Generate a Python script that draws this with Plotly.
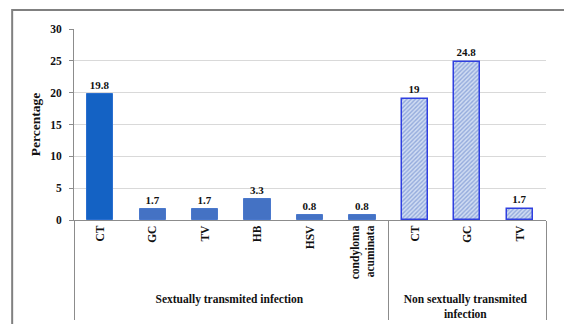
import plotly.graph_objects as go

groups = ["Sextually transmited infection"] * 6 + ["Non sextually transmited<br>infection"] * 3
categories = ["CT", "GC", "TV", "HB", "HSV", "condyloma<br>acuminata", "CT", "GC", "TV"]
values = [19.8, 1.7, 1.7, 3.3, 0.8, 0.8, 19, 24.8, 1.7]
y_ticks = [0, 5, 10, 15, 20, 25, 30]

n_sti = 6
font = "Liberation Serif, Times New Roman, serif"
bold = dict(family=font, size=11, color="#111", weight="bold")
tickbold = dict(family=font, size=11.5, color="#111", weight="bold")

fig = go.Figure()
fig.add_bar(
    x=[groups[:1], categories[:1]], y=values[:1],
    marker=dict(color="#1462c4", line=dict(color="#2a6fd0", width=1)),
    text=[str(v) for v in values[:1]], textposition="outside",
    width=0.5, cliponaxis=False,
)
fig.add_bar(
    x=[groups[1:n_sti], categories[1:n_sti]], y=values[1:n_sti],
    marker=dict(color="#4472c4", line=dict(color="#4a78cc", width=1)),
    text=[str(v) for v in values[1:n_sti]], textposition="outside",
    width=0.5, cliponaxis=False,
)
fig.add_bar(
    x=[groups[n_sti:], categories[n_sti:]], y=values[n_sti:],
    marker=dict(color="#3a4ee0",
                pattern=dict(shape="/", fgcolor="#5577c6", bgcolor="#d0dcf2", size=3, solidity=0.45),
                line=dict(color="#2f3fe0", width=1.5)),
    text=[str(v) for v in values[n_sti:]], textposition="outside",
    width=0.5, cliponaxis=False,
)

fig.update_traces(textfont=bold)

fig.update_layout(
    width=564, height=324,
    margin=dict(l=74, r=18, t=29, b=104, autoexpand=False),
    paper_bgcolor="white", plot_bgcolor="white",
    showlegend=False, barmode="group", bargap=0,
    font=dict(family=font, size=11, color="#111"),
    xaxis=dict(
        type="multicategory", tickangle=-90, automargin=False,
        tickfont=tickbold,
        showline=True, linecolor="#8c8c8c", linewidth=1,
        showdividers=True, dividercolor="#8c8c8c", dividerwidth=1,
        ticks="",
    ),
    yaxis=dict(
        range=[0, 30], tickvals=y_ticks, automargin=False,
        tickfont=tickbold, ticklabelstandoff=5,
        showgrid=True, gridcolor="#d9d9d9", gridwidth=1,
        showline=True, linecolor="#8c8c8c", linewidth=1,
        ticks="outside", ticklen=4, tickcolor="#8c8c8c",
        title=dict(text="Percentage", font=dict(family=font, size=13.5, color="#111", weight="bold"), standoff=6),
        zeroline=False,
    ),
    shapes=[dict(type="rect", xref="paper", yref="paper",
                 x0=-0.131, y0=-1.0, x1=1.2, y1=1.0995,
                 line=dict(color="#808080", width=2), layer="below")],
)

fig.write_html("out.html", config={"displayModeBar": False},
               post_script="document.body.style.margin='0';document.body.style.overflow='hidden';")
